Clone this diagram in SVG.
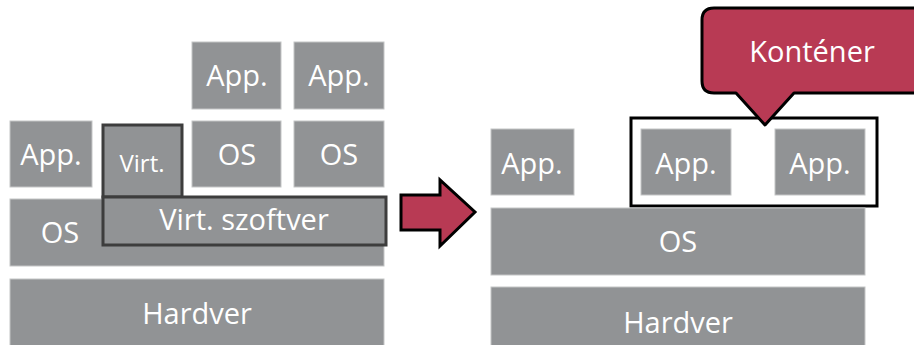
<svg xmlns="http://www.w3.org/2000/svg" width="914" height="345" viewBox="0 0 914 345">
<style>
.b{fill:#919395;stroke:#c4c5c6;stroke-width:1}
.d{fill:#919395;stroke:#3d3d3d;stroke-width:3}
.t{font-family:"Open Sans","Noto Sans",sans-serif;font-size:29px;fill:#ffffff;text-anchor:middle}
.s{font-size:24px}
</style>
<rect width="914" height="345" fill="#ffffff"/>
<g id="left-app"><rect class="b" x="10" y="121" width="82" height="66"/><text class="t" x="51" y="165">App.</text></g>
<g id="left-top-app1"><rect class="b" x="192" y="42" width="89" height="67"/><text class="t" x="237" y="86">App.</text></g>
<g id="left-top-app2"><rect class="b" x="294" y="42" width="90" height="67"/><text class="t" x="339" y="86">App.</text></g>
<g id="guest-os1"><rect class="b" x="192" y="121" width="89" height="66"/><text class="t" x="237" y="165">OS</text></g>
<g id="guest-os2"><rect class="b" x="294" y="121" width="90" height="66"/><text class="t" x="339" y="165">OS</text></g>
<g id="host-os"><rect class="b" x="10" y="199" width="374" height="67"/><text class="t" x="60" y="243">OS</text></g>
<g id="virt"><rect class="d" x="103" y="125" width="79" height="72"/><text class="t s" x="142" y="172">Virt.</text></g>
<g id="virt-szoftver"><rect class="d" x="103" y="197" width="283" height="48"/><text class="t" x="244" y="230">Virt. szoftver</text></g>
<g id="left-hardver"><rect class="b" x="10" y="279" width="374" height="70"/><text class="t" x="197" y="324">Hardver</text></g>
<g id="connectors">
<path d="M401,195 H440 V180 L475,212 L440,246 V230 H401 Z" fill="#b83a54" stroke="#000" stroke-width="3" stroke-linejoin="miter"/>
</g>
<g id="right-app"><rect class="b" x="491" y="129" width="83" height="66"/><text class="t" x="532" y="174">App.</text></g>
<g id="container"><rect x="631" y="118" width="246" height="88" fill="none" stroke="#000" stroke-width="3"/></g>
<g id="c-app1"><rect class="b" x="641" y="129" width="90" height="66"/><text class="t" x="686" y="174">App.</text></g>
<g id="c-app2"><rect class="b" x="775" y="129" width="90" height="66"/><text class="t" x="820" y="174">App.</text></g>
<g id="right-os"><rect class="b" x="491" y="208" width="374" height="67"/><text class="t" x="678" y="252">OS</text></g>
<g id="right-hardver"><rect class="b" x="491" y="287" width="374" height="62"/><text class="t" x="678" y="333">Hardver</text></g>
<g id="callout">
<path d="M930,8 H714 Q702,8 702,20 V81 Q702,93 714,93 H736 L765,125 L794,93 H930 Z" fill="#b83a54" stroke="#000" stroke-width="3" stroke-linejoin="round"/>
<text class="t" x="812" y="62">Konténer</text>
</g>
</svg>
